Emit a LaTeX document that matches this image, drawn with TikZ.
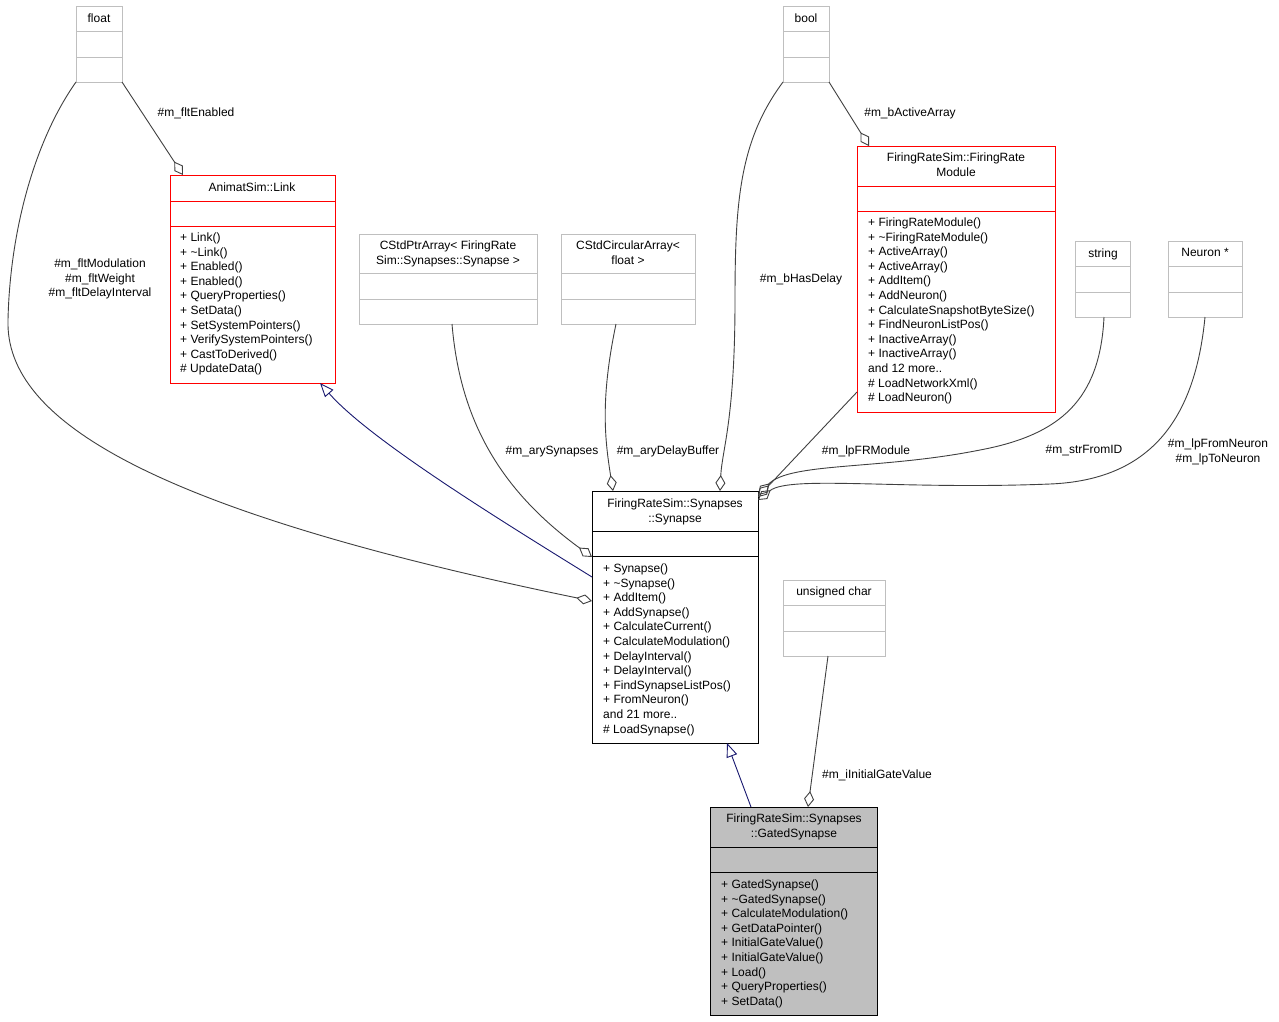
\documentclass[tikz,border=0pt]{standalone}
\usepackage{fontspec}
\setmainfont{Liberation Sans}
\usepackage{xcolor}
\usepackage{tikz}
\usetikzlibrary{calc, arrows.meta, positioning}

\definecolor{edgegray}{HTML}{404040}
\definecolor{boxgray}{HTML}{BFBFBF}
\definecolor{inhblue}{HTML}{191970}
\definecolor{boxred}{HTML}{FF0000}

\tikzset{
    classbox/.style={rectangle, anchor=north west, inner sep=0pt, outer sep=0pt, line width=1pt},
    graybox/.style={classbox, draw=boxgray},
    redbox/.style={classbox, draw=boxred},
    blackbox/.style={classbox, draw=black},
    txt/.style={inner sep=0pt, font=\fontsize{12}{14.6}\selectfont},
    title/.style={txt, anchor=north, align=center},
    members/.style={txt, anchor=north west, align=left},
    lbl/.style={txt, anchor=north, align=center},
    aggr/.style={draw=edgegray, line width=0.9pt, -{Diamond[open, length=16pt, width=10pt]}},
    inherit/.style={draw=inhblue, line width=0.9pt, -{Triangle[open, length=14pt, width=11pt]}}
}

\begin{document}
\begin{tikzpicture}[x=1pt, y=-1pt]
    \useasboundingbox[fill=white] (0,0) rectangle (1279,1021);

    % 1. Classes at the top: float, bool
    \node[graybox, minimum width=46pt, minimum height=76pt] (flt) at (76,6) {};
    \draw[boxgray, line width=1pt] (76,31) -- (122,31) (76,57) -- (122,57);
    \node[title] (fltT) at (99,13.5) {float};

    \node[graybox, minimum width=46pt, minimum height=76pt] (boo) at (783,6) {};
    \draw[boxgray, line width=1pt] (783,31) -- (829,31) (783,57) -- (829,57);
    \node[title] (booT) at (806,13.5) {bool};

    % 2. AnimatSim::Link (red)
    \node[redbox, minimum width=165pt, minimum height=208pt] (lnk) at (170,175) {};
    \draw[boxred, line width=1pt] (170,201) -- (335,201) (170,226) -- (335,226);
    \node[title] (lnkT) at (252,182.5) {AnimatSim::Link};
    \node[members] (lnkM) at (180,232.5) {+ Link()\\+ \textasciitilde Link()\\+ Enabled()\\+ Enabled()\\+ QueryProperties()\\+ SetData()\\+ SetSystemPointers()\\+ VerifySystemPointers()\\+ CastToDerived()\\\# UpdateData()};

    % 3. Template arrays
    \node[graybox, minimum width=178pt, minimum height=90pt] (ptr) at (359,234) {};
    \draw[boxgray, line width=1pt] (359,273) -- (537,273) (359,299) -- (537,299);
    \node[title] (ptrT) at (448,240.5) {CStdPtrArray< FiringRate\\Sim::Synapses::Synapse >};

    \node[graybox, minimum width=134pt, minimum height=90pt] (circ) at (561,234) {};
    \draw[boxgray, line width=1pt] (561,273) -- (695,273) (561,299) -- (695,299);
    \node[title] (circT) at (628,240.5) {CStdCircularArray<\\float >};

    % 4. FiringRateSim::FiringRateModule (red)
    \node[redbox, minimum width=198pt, minimum height=266pt] (frm) at (857,146) {};
    \draw[boxred, line width=1pt] (857,186) -- (1055,186) (857,211) -- (1055,211);
    \node[title] (frmT) at (956,152.5) {FiringRateSim::FiringRate\\Module};
    \node[members] (frmM) at (868,217.5) {+ FiringRateModule()\\+ \textasciitilde FiringRateModule()\\+ ActiveArray()\\+ ActiveArray()\\+ AddItem()\\+ AddNeuron()\\+ CalculateSnapshotByteSize()\\+ FindNeuronListPos()\\+ InactiveArray()\\+ InactiveArray()\\and 12 more..\\\# LoadNetworkXml()\\\# LoadNeuron()};

    % 5. string, Neuron *
    \node[graybox, minimum width=55pt, minimum height=76pt] (str) at (1075,241) {};
    \draw[boxgray, line width=1pt] (1075,266) -- (1130,266) (1075,292) -- (1130,292);
    \node[title] (strT) at (1103,248.5) {string};

    \node[graybox, minimum width=74pt, minimum height=76pt] (nrn) at (1168,241) {};
    \draw[boxgray, line width=1pt] (1168,266) -- (1242,266) (1168,292) -- (1242,292);
    \node[title] (nrnT) at (1205,248.5) {Neuron *};

    % 6. FiringRateSim::Synapses::Synapse
    \node[blackbox, minimum width=166pt, minimum height=252pt] (syn) at (592,491) {};
    \draw[black, line width=1pt] (592,531) -- (758,531) (592,556) -- (758,556);
    \node[title] (synT) at (675,498.5) {FiringRateSim::Synapses\\::Synapse};
    \node[members] (synM) at (603,563.5) {+ Synapse()\\+ \textasciitilde Synapse()\\+ AddItem()\\+ AddSynapse()\\+ CalculateCurrent()\\+ CalculateModulation()\\+ DelayInterval()\\+ DelayInterval()\\+ FindSynapseListPos()\\+ FromNeuron()\\and 21 more..\\\# LoadSynapse()};

    % 7. unsigned char
    \node[graybox, minimum width=102pt, minimum height=76pt] (uch) at (783,580) {};
    \draw[boxgray, line width=1pt] (783,605) -- (885,605) (783,631) -- (885,631);
    \node[title] (uchT) at (834,586.5) {unsigned char};

    % 8. FiringRateSim::Synapses::GatedSynapse (grey fill)
    \node[blackbox, fill=boxgray, minimum width=167pt, minimum height=208pt] (gtd) at (710,807) {};
    \draw[black, line width=1pt] (710,847) -- (877,847) (710,872) -- (877,872);
    \node[title] (gtdT) at (794,813.5) {FiringRateSim::Synapses\\::GatedSynapse};
    \node[members] (gtdM) at (721,879.5) {+ GatedSynapse()\\+ \textasciitilde GatedSynapse()\\+ CalculateModulation()\\+ GetDataPointer()\\+ InitialGateValue()\\+ InitialGateValue()\\+ Load()\\+ QueryProperties()\\+ SetData()};

    % 9. Inheritance
    \draw[inherit] ($(syn.north west)+(0,86)$) .. controls (500,520) and (370,440) .. ($(lnk.south west)+(150,0)$);
    \draw[inherit] ($(gtd.north west)+(41,0)$) -- ($(syn.south west)+(135,0)$);

    % 10. Members (aggregation)
    \draw[aggr] (flt.south east) -- ($(lnk.north west)+(13,0)$);
    \node[lbl] (lEnabled) at (196,107.5) {\#m\_fltEnabled};

    \draw[aggr] (flt.south west) .. controls (35,140) and (10,230) .. (8,320)
        .. controls (5,420) and (150,510) .. ($(syn.north west)+(0,110)$);
    \node[lbl] (lFlt) at (100,258.5) {\#m\_fltModulation\\\#m\_fltWeight\\\#m\_fltDelayInterval};

    \draw[aggr] ($(ptr.south west)+(93,0)$) .. controls (460,420) and (500,490) .. ($(syn.north west)+(0,66)$);
    \node[lbl] (lArySyn) at (552,445.5) {\#m\_arySynapses};

    \draw[aggr] ($(circ.south west)+(55,0)$) .. controls (600,400) and (605,440) .. ($(syn.north west)+(21,0)$);
    \node[lbl] (lDelay) at (668,445.5) {\#m\_aryDelayBuffer};

    \draw[aggr] (boo.south west) .. controls (740,140) and (735,200) .. (735,300)
        .. controls (735,420) and (722,450) .. ($(syn.north west)+(128,0)$);
    \node[lbl] (lHasDelay) at (801,273.5) {\#m\_bHasDelay};

    \draw[aggr] (boo.south east) -- ($(frm.north west)+(12,0)$);
    \node[lbl] (lActive) at (910,107.5) {\#m\_bActiveArray};

    \draw[aggr] ($(frm.north west)+(0,246)$) -- ($(syn.north east)+(0,6)$);
    \node[lbl] (lFR) at (866,445.5) {\#m\_lpFRModule};

    \draw[aggr] ($(str.south west)+(29,0)$) .. controls (1100,400) and (1060,435) .. (980,450)
        .. controls (880,470) and (790,462) .. ($(syn.north east)+(0,4)$);
    \node[lbl] (lStr) at (1084,445.5) {\#m\_strFromID};

    \draw[aggr] ($(nrn.south west)+(37,0)$) .. controls (1195,420) and (1150,480) .. (1050,484)
        .. controls (900,490) and (790,475) .. ($(syn.north east)+(0,9)$);
    \node[lbl] (lNrn) at (1218,438.5) {\#m\_lpFromNeuron\\\#m\_lpToNeuron};

    \draw[aggr] ($(uch.south west)+(45,0)$) -- ($(gtd.north west)+(98,0)$);
    \node[lbl] (lGate) at (877,769.5) {\#m\_iInitialGateValue};

\end{tikzpicture}
\end{document}
